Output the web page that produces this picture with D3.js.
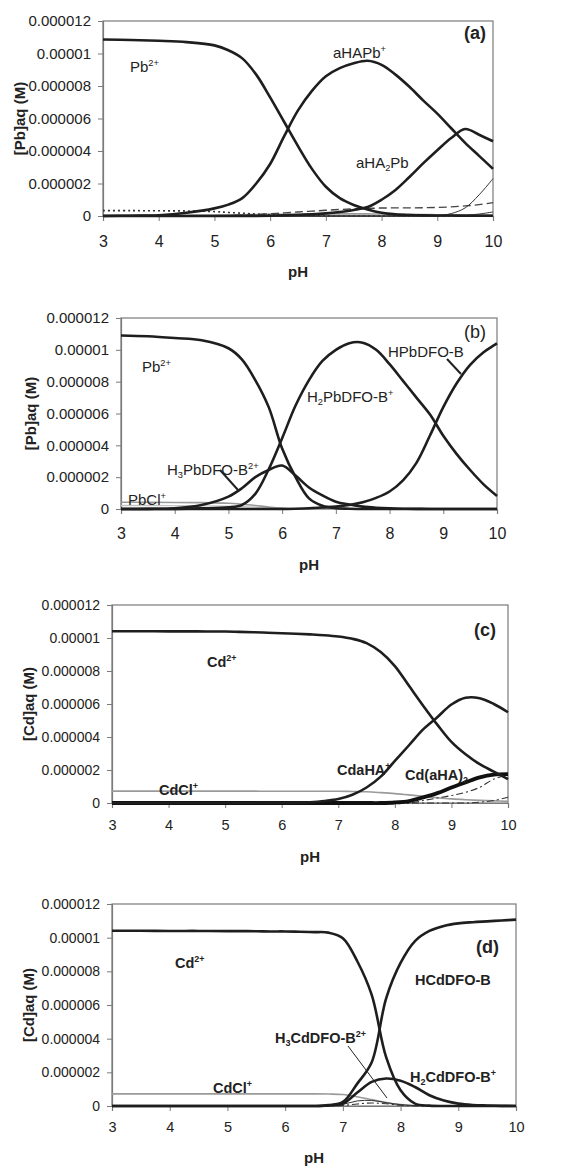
<!DOCTYPE html>
<html>
<head>
<meta charset="utf-8">
<script src="https://cdn.jsdelivr.net/npm/d3@7"></script>
<style>
  body { margin: 0; background: #fff; }
  text { font-family: 'Liberation Sans', Arial, sans-serif; fill: #222; }
</style>
</head>
<body>
<div id="chart"></div>
<script>
// pH grid shared by every panel
var ph_grid = [3, 3.5, 4, 4.5, 5, 5.25, 5.5, 5.75, 6, 6.25, 6.5, 6.75, 7, 7.25, 7.5, 7.75, 8, 8.25, 8.5, 8.75, 9, 9.25, 9.5, 9.75, 10]
var y_ticks = [0, 2, 4, 6, 8, 10, 12] // micromolar
var x_ticks = [3, 4, 5, 6, 7, 8, 9, 10]

// panel (a) - Pb with aHA (values in micromolar)
var a_pb2 = [10.86, 10.83, 10.78, 10.7, 10.5, 10.2, 9.7, 8.7, 7.3, 5.8, 4.3, 2.9, 1.8, 1.1, 0.68, 0.4, 0.2, 0.1, 0.06, 0.04, 0.03, 0.03, 0.02, 0.02, 0.02]
var a_ahapb = [0, 0.02, 0.05, 0.2, 0.47, 0.7, 1.1, 2.0, 3.2, 4.9, 6.5, 7.7, 8.6, 9.1, 9.4, 9.55, 9.3, 8.7, 7.95, 7.1, 6.3, 5.4, 4.5, 3.7, 2.9]
var a_aha2pb = [0, 0, 0, 0, 0, 0, 0.01, 0.01, 0.02, 0.04, 0.06, 0.1, 0.16, 0.25, 0.37, 0.55, 1.0, 1.6, 2.4, 3.25, 4.05, 4.8, 5.35, 5.0, 4.6]
var a_thin1 = [0, 0, 0, 0, 0, 0, 0, 0, 0, 0, 0, 0, 0, 0, 0, 0, 0, 0, 0, 0, 0.02, 0.15, 0.5, 1.3, 2.3]
var a_thin2 = [0, 0, 0, 0, 0, 0, 0, 0, 0, 0, 0, 0, 0, 0, 0, 0, 0, 0, 0, 0, 0, 0.02, 0.05, 0.12, 0.25]
var a_dotted = [0.33, 0.33, 0.32, 0.31, 0.27, 0.22, 0.17, 0.12, 0.08, 0.05, 0.03, 0.02, 0.01, 0, 0, 0, 0, 0, 0, 0, 0, 0, 0, 0, 0]
var a_dashed = [0, 0, 0, 0, 0, 0.02, 0.05, 0.09, 0.14, 0.19, 0.25, 0.3, 0.35, 0.4, 0.44, 0.47, 0.49, 0.5, 0.5, 0.51, 0.53, 0.56, 0.62, 0.7, 0.82]
var a_gray = [0.04, 0.04, 0.05, 0.05, 0.06, 0.07, 0.08, 0.09, 0.1, 0.11, 0.12, 0.12, 0.13, 0.13, 0.13, 0.13, 0.12, 0.11, 0.1, 0.09, 0.08, 0.08, 0.07, 0.07, 0.06]

// panel (b) - Pb with DFO-B
var b_pb2 = [10.9, 10.85, 10.74, 10.6, 10.1, 9.4, 8.1, 6.4, 3.8, 2.0, 0.67, 0.2, 0.05, 0.02, 0, 0, 0, 0, 0, 0, 0, 0, 0, 0, 0]
var b_h2pbdfo = [0, 0, 0.01, 0.04, 0.1, 0.25, 0.95, 2.5, 4.45, 6.5, 8.1, 9.3, 10.0, 10.42, 10.45, 10.0, 9.1, 8.05, 7.0, 5.95, 4.6, 3.45, 2.45, 1.55, 0.82]
var b_hpbdfo = [0, 0, 0, 0, 0, 0, 0, 0, 0, 0.02, 0.05, 0.1, 0.15, 0.25, 0.42, 0.7, 1.1, 1.8, 2.9, 4.6, 6.4, 7.9, 9.06, 9.85, 10.4]
var b_h3pbdfo = [0, 0.01, 0.05, 0.25, 0.78, 1.3, 2.0, 2.45, 2.73, 2.1, 1.35, 0.85, 0.46, 0.28, 0.15, 0.08, 0.04, 0.02, 0.01, 0, 0, 0, 0, 0, 0]
var b_pbcl = [0.42, 0.42, 0.41, 0.4, 0.36, 0.3, 0.22, 0.13, 0.06, 0.02, 0.01, 0, 0, 0, 0, 0, 0, 0, 0, 0, 0, 0, 0, 0, 0]
var b_gray2 = [0.22, 0.22, 0.21, 0.2, 0.18, 0.15, 0.12, 0.08, 0.04, 0.02, 0.01, 0, 0, 0, 0, 0, 0, 0, 0, 0, 0, 0, 0, 0, 0]

// panel (c) - Cd with aHA
var c_cd2 = [10.41, 10.41, 10.4, 10.4, 10.39, 10.37, 10.35, 10.32, 10.29, 10.26, 10.22, 10.17, 10.09, 9.95, 9.69, 9.15, 8.3, 7.1, 5.9, 4.75, 3.7, 2.95, 2.35, 1.9, 1.45]
var c_cdaha = [0, 0, 0, 0, 0, 0, 0, 0.01, 0.01, 0.02, 0.05, 0.12, 0.24, 0.5, 0.94, 1.6, 2.55, 3.5, 4.46, 5.2, 5.97, 6.38, 6.35, 6.0, 5.5]
var c_cdaha2 = [0, 0, 0, 0, 0, 0, 0, 0, 0, 0, 0, 0, 0, 0, 0, 0, 0.03, 0.12, 0.34, 0.6, 0.94, 1.25, 1.55, 1.72, 1.75]
var c_dashdot1 = [0, 0, 0, 0, 0, 0, 0, 0, 0, 0, 0, 0, 0, 0, 0, 0, 0, 0, 0.15, 0.3, 0.45, 0.65, 0.95, 1.45, 1.7]
var c_dashdot2 = [0, 0, 0, 0, 0, 0, 0, 0, 0, 0, 0, 0, 0, 0, 0, 0, 0, 0, 0, 0, 0, 0, 0.05, 0.15, 0.35]
var c_cdcl = [0.72, 0.72, 0.72, 0.72, 0.72, 0.72, 0.72, 0.71, 0.71, 0.71, 0.71, 0.71, 0.71, 0.7, 0.68, 0.63, 0.57, 0.49, 0.4, 0.32, 0.25, 0.2, 0.16, 0.13, 0.1]

// panel (d) - Cd with DFO-B
var d_cd2 = [10.41, 10.41, 10.4, 10.4, 10.39, 10.39, 10.38, 10.37, 10.37, 10.35, 10.33, 10.3, 9.97, 8.6, 6.6, 2.9, 0.93, 0.14, 0.02, 0, 0, 0, 0, 0, 0]
var d_hcddfo = [0, 0, 0, 0, 0, 0, 0, 0, 0, 0, 0, 0.05, 0.24, 1.33, 2.6, 6.4, 8.5, 9.8, 10.4, 10.7, 10.85, 10.92, 10.97, 11.02, 11.07]
var d_h2cddfo = [0, 0, 0, 0, 0, 0, 0, 0, 0, 0, 0, 0.03, 0.14, 0.8, 1.43, 1.63, 1.5, 1.13, 0.64, 0.32, 0.14, 0.06, 0.03, 0.01, 0]
var d_h3cddfo = [0, 0, 0, 0, 0, 0, 0, 0, 0, 0, 0, 0.02, 0.1, 0.3, 0.33, 0.2, 0.08, 0.02, 0, 0, 0, 0, 0, 0, 0]
var d_dashdot = [0, 0, 0, 0, 0, 0, 0, 0, 0, 0, 0, 0, 0.03, 0.12, 0.18, 0.13, 0.05, 0.01, 0, 0, 0, 0, 0, 0, 0]
var d_cdcl = [0.72, 0.72, 0.72, 0.72, 0.72, 0.72, 0.72, 0.72, 0.72, 0.72, 0.72, 0.71, 0.68, 0.55, 0.38, 0.2, 0.08, 0.02, 0, 0, 0, 0, 0, 0, 0]

// line styles
var STYLE = {
  main: { stroke: '#1e1e1e', width: 2.6, dash: null },
  thick: { stroke: '#111', width: 3.8, dash: null },
  thin: { stroke: '#333', width: 1, dash: null },
  gray: { stroke: '#9a9a9a', width: 1.6, dash: null },
  light: { stroke: '#c4c4c4', width: 1.4, dash: null },
  dotted: { stroke: '#333', width: 1.6, dash: '2,3' },
  dashed: { stroke: '#444', width: 1.4, dash: '8,4' },
  dashdot: { stroke: '#333', width: 1.1, dash: '7,3,2,3' }
}

var width = 582
var height = 1168

var svg = d3
  .select('#chart')
  .append('svg')
  .attr('width', width)
  .attr('height', height)

var panels = [
  {
    box: { left: 103, right: 493, top: 21, bottom: 216 },
    yTitle: '[Pb]aq (M)', yTitleX: 20, xTitleY: 272,
    yFont: 15, xFont: 16, xPad: 15,
    tag: '(a)', tagX: 486, tagY: 39, tagBold: true,
    series: [
      [a_gray, 'gray'], [a_thin2, 'thin'], [a_dotted, 'dotted'], [a_dashed, 'dashed'],
      [a_thin1, 'thin'], [a_pb2, 'main'], [a_ahapb, 'main'], [a_aha2pb, 'main']
    ],
    labels: [
      { t: 'Pb^{2+}', x: 130, y: 72 },
      { t: 'aHAPb^{+}', x: 333, y: 58 },
      { t: 'aHA_{2}Pb', x: 356, y: 168 }
    ],
    bold: false, labelFont: 15, leaders: []
  },
  {
    box: { left: 121, right: 497, top: 318, bottom: 509 },
    yTitle: '[Pb]aq (M)', yTitleX: 31, xTitleY: 565,
    yFont: 15, xFont: 16, xPad: 14,
    tag: '(b)', tagX: 486, tagY: 338, tagBold: false,
    series: [
      [b_gray2, 'light'], [b_pbcl, 'gray'], [b_h3pbdfo, 'main'],
      [b_pb2, 'main'], [b_h2pbdfo, 'main'], [b_hpbdfo, 'main']
    ],
    labels: [
      { t: 'Pb^{2+}', x: 142, y: 372 },
      { t: 'H_{2}PbDFO-B^{+}', x: 307, y: 402 },
      { t: 'HPbDFO-B', x: 388, y: 357 },
      { t: 'H_{3}PbDFO-B^{2+}', x: 167, y: 475 },
      { t: 'PbCl^{+}', x: 128, y: 505, color: '#555' }
    ],
    bold: false, labelFont: 15,
    leaders: [[447, 359, 461, 374, 2], [220, 470, 238, 490, 2]]
  },
  {
    box: { left: 112, right: 508, top: 605, bottom: 803 },
    yTitle: '[Cd]aq (M)', yTitleX: 29, xTitleY: 857,
    yFont: 14, xFont: 14.5, xPad: 12,
    tag: '(c)', tagX: 496, tagY: 636, tagBold: true,
    series: [
      [c_cdcl, 'gray'], [c_dashdot2, 'dashdot'], [c_dashdot1, 'dashdot'],
      [c_cdaha2, 'thick'], [c_cd2, 'main'], [c_cdaha, 'main']
    ],
    labels: [
      { t: 'Cd^{2+}', x: 207, y: 667 },
      { t: 'CdaHA^{+}', x: 337, y: 775 },
      { t: 'Cd(aHA)_{2}', x: 405, y: 780 },
      { t: 'CdCl^{+}', x: 159, y: 795 }
    ],
    bold: true, labelFont: 14.5, leaders: []
  },
  {
    box: { left: 112, right: 516, top: 904, bottom: 1106 },
    yTitle: '[Cd]aq (M)', yTitleX: 29, xTitleY: 1158,
    yFont: 14, xFont: 14.5, xPad: 11,
    tag: '(d)', tagX: 499, tagY: 953, tagBold: true,
    series: [
      [d_cdcl, 'gray'], [d_dashdot, 'dashdot'], [d_h3cddfo, 'thin'],
      [d_h2cddfo, 'main'], [d_cd2, 'main'], [d_hcddfo, 'main']
    ],
    labels: [
      { t: 'Cd^{2+}', x: 175, y: 968 },
      { t: 'HCdDFO-B', x: 415, y: 985 },
      { t: 'H_{3}CdDFO-B^{2+}', x: 275, y: 1043 },
      { t: 'H_{2}CdDFO-B^{+}', x: 410, y: 1082 },
      { t: 'CdCl^{+}', x: 213, y: 1093 }
    ],
    bold: true, labelFont: 14.5,
    leaders: [[348, 1046, 387, 1098, 1]]
  }
]

// micromolar tick -> molar label like the original
var tickLabel = d => (d === 0 ? '0' : (d * 1e-6).toFixed(6).replace(/0+$/, ''))

// write text with sub/superscripts, syntax: X_{2} and X^{2+}
function richText (sel, str, size) {
  var parts = str.split(/(\^\{[^}]*\}|_\{[^}]*\})/).filter(p => p !== '')
  var shift = 0
  parts.forEach(p => {
    var span = sel.append('tspan')
    var target = 0
    var txt = p
    var fs = size
    if (p[0] === '^') {
      target = -size * 0.42
      txt = p.slice(2, -1)
      fs = size * 0.62
    } else if (p[0] === '_') {
      target = size * 0.22
      txt = p.slice(2, -1)
      fs = size * 0.62
    }
    span.attr('dy', target - shift).style('font-size', fs + 'px').text(txt)
    shift = target
  })
}

panels.forEach(p => {
  var b = p.box
  var x = d3.scaleLinear().domain([3, 10]).range([b.left, b.right])
  var y = d3.scaleLinear().domain([0, 12]).range([b.bottom, b.top])
  var g = svg.append('g')

  // frame
  g.append('rect')
    .attr('x', b.left)
    .attr('y', b.top)
    .attr('width', b.right - b.left)
    .attr('height', b.bottom - b.top)
    .attr('fill', 'none')
    .attr('stroke', '#7a7a7a')
    .attr('stroke-width', 1.2)

  // axes
  var yAxis = g.append('g')
    .attr('transform', 'translate(' + b.left + ',0)')
    .call(d3.axisLeft(y).tickValues(y_ticks).tickSize(5).tickPadding(7).tickFormat(tickLabel))
  var xAxis = g.append('g')
    .attr('transform', 'translate(0,' + b.bottom + ')')
    .call(d3.axisBottom(x).tickValues(x_ticks).tickSize(5).tickPadding(p.xPad).tickFormat(d3.format('d')))

  yAxis.selectAll('text').style('font-size', p.yFont + 'px').attr('fill', '#333')
  xAxis.selectAll('text').style('font-size', p.xFont + 'px').attr('fill', '#333')
  g.selectAll('.domain').attr('stroke', '#7a7a7a').attr('stroke-width', 1.2)
  g.selectAll('.tick line').attr('stroke', '#7a7a7a')

  // axis titles
  g.append('text')
    .attr('transform', 'translate(' + p.yTitleX + ',' + (b.top + b.bottom) / 2 + ') rotate(-90)')
    .attr('text-anchor', 'middle')
    .attr('dy', '0.35em')
    .style('font-size', '15px')
    .style('font-weight', 'bold')
    .text(p.yTitle)

  g.append('text')
    .attr('x', (b.left + b.right) / 2)
    .attr('y', p.xTitleY)
    .attr('text-anchor', 'middle')
    .attr('dy', '0.35em')
    .style('font-size', '15px')
    .style('font-weight', 'bold')
    .text('pH')

  // species curves
  var line = d3.line()
    .x((d, i) => x(ph_grid[i]))
    .y(d => y(d))
    .curve(d3.curveCatmullRom.alpha(0.5))

  p.series.forEach(s => {
    var st = STYLE[s[1]]
    g.append('path')
      .datum(s[0])
      .attr('d', line)
      .attr('fill', 'none')
      .attr('stroke', st.stroke)
      .attr('stroke-width', st.width)
      .attr('stroke-dasharray', st.dash)
      .attr('stroke-linejoin', 'round')
  })

  // leader lines
  p.leaders.forEach(l => {
    g.append('line')
      .attr('x1', l[0]).attr('y1', l[1])
      .attr('x2', l[2]).attr('y2', l[3])
      .attr('stroke', '#222')
      .attr('stroke-width', l[4])
  })

  // species labels
  p.labels.forEach(l => {
    var t = g.append('text')
      .attr('x', l.x)
      .attr('y', l.y)
      .style('font-size', p.labelFont + 'px')
      .style('font-weight', p.bold ? 'bold' : 'normal')
      .attr('fill', l.color || '#222')
    richText(t, l.t, p.labelFont)
  })

  // panel tag
  g.append('text')
    .attr('x', p.tagX)
    .attr('y', p.tagY)
    .attr('text-anchor', 'end')
    .style('font-size', '18px')
    .style('font-weight', p.tagBold ? 'bold' : 'normal')
    .text(p.tag)
})
</script>
</body>
</html>
